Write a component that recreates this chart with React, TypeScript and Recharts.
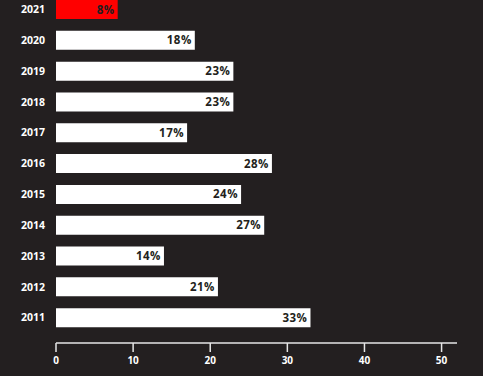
import React from "react";
import { BarChart, Bar, XAxis, YAxis, Cell, LabelList } from "recharts";

const years = ["2021", "2020", "2019", "2018", "2017", "2016", "2015", "2014", "2013", "2012", "2011"];
const shares = [8, 18, 23, 23, 17, 28, 24, 27, 14, 21, 33];
const xTicks = [0, 10, 20, 30, 40, 50];

const data = years.map((y, i) => ({ year: y, value: shares[i] }));

const BG = "#231f20";

export default function App() {
  return (
    <div style={{ position: "absolute", left: 0, top: 0, width: 500, height: 376, background: "#ffffff", overflow: "hidden" }}>
      <div style={{ position: "absolute", left: 0, top: 0, width: 483, height: 376, background: BG }} />
      <div style={{ position: "absolute", left: 0, top: 0 }}>
        <BarChart
          width={500}
          height={376}
          data={data}
          layout="vertical"
          margin={{ top: -6, right: 43, bottom: 0, left: 0 }}
          style={{ fontFamily: "'Open Sans', sans-serif" }}
        >
          <XAxis
            type="number"
            domain={[0, 52]}
            ticks={xTicks}
            allowDataOverflow
            height={33}
            tickSize={9}
            tickMargin={5}
            axisLine={{ stroke: "#e6e6e6", strokeWidth: 1.5 }}
            tickLine={{ stroke: "#e6e6e6", strokeWidth: 1.5 }}
            tick={{ fill: "#ffffff", fontSize: 10, fontWeight: 700 }}
          />
          <YAxis
            type="category"
            dataKey="year"
            width={56}
            axisLine={false}
            tickLine={false}
            tickSize={0}
            tickMargin={11}
            padding={{ top: 0, bottom: 10 }}
            tick={{ fill: "#ffffff", fontSize: 10.5, fontWeight: 700 }}
          />
          <Bar dataKey="value" barSize={19} isAnimationActive={false}>
            {data.map((d, i) => (
              <Cell key={d.year} fill={i === 0 ? "#ff0000" : "#ffffff"} />
            ))}
            <LabelList
              dataKey="value"
              position="insideRight"
              offset={3}
              formatter={(v: number) => `${v}%`}
              style={{ fill: BG, fontSize: 11.5, fontWeight: 700, letterSpacing: 0.5 }}
            />
          </Bar>
        </BarChart>
      </div>
    </div>
  );
}
